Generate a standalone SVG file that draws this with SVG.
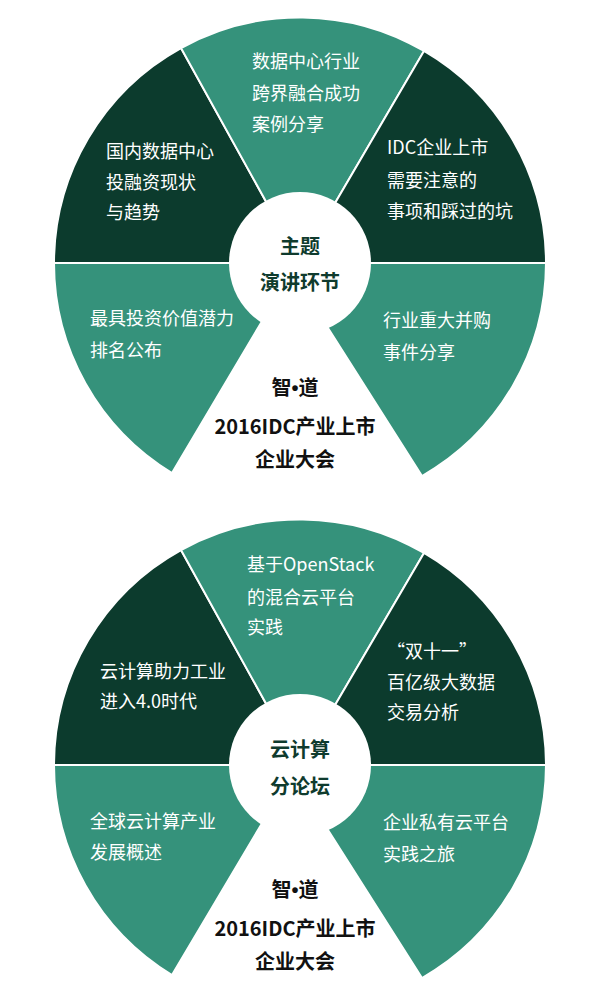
<svg xmlns="http://www.w3.org/2000/svg" width="600" height="1000" viewBox="0 0 600 1000">
<defs>
<style>
.dark{fill:#0c3b2d;stroke:#ffffff;stroke-width:2;stroke-linejoin:round}
.teal{fill:#35927b;stroke:#ffffff;stroke-width:2;stroke-linejoin:round}
.hub{fill:#ffffff}
.lbl{font-family:"Noto Sans CJK SC","Microsoft YaHei",sans-serif;font-size:18px;fill:#ffffff}
.ctr{font-family:"Noto Sans CJK SC",sans-serif;font-size:20px;font-weight:bold;fill:#0f3b2e;text-anchor:middle}
.ttl{font-family:"Noto Sans CJK SC",sans-serif;font-size:20px;font-weight:bold;fill:#111111;text-anchor:middle}
.dot{font-family:"Liberation Sans",sans-serif}
</style>
</defs>
<rect width="600" height="1000" fill="#ffffff"/>

<g id="wheel1">
  <g id="w1-upper-left">
    <path class="dark" d="M300,263 L54,263 A246,246 0 0 1 181,48 Z"/>
    <text class="lbl" x="106" y="158">国内数据中心</text>
    <text class="lbl" x="106" y="189">投融资现状</text>
    <text class="lbl" x="106" y="219">与趋势</text>
  </g>
  <g id="w1-top">
    <path class="teal" d="M300,263 L181,48 A246,246 0 0 1 424,51 Z"/>
    <text class="lbl" x="252" y="68">数据中心行业</text>
    <text class="lbl" x="252" y="100">跨界融合成功</text>
    <text class="lbl" x="252" y="131">案例分享</text>
  </g>
  <g id="w1-upper-right">
    <path class="dark" d="M300,263 L424,51 A246,246 0 0 1 546,263 Z"/>
    <text class="lbl" x="387" y="154">IDC企业上市</text>
    <text class="lbl" x="387" y="187">需要注意的</text>
    <text class="lbl" x="387" y="218">事项和踩过的坑</text>
  </g>
  <g id="w1-lower-right">
    <path class="teal" d="M300,263 L546,263 A246,246 0 0 1 422,476 L328,328 Z"/>
    <text class="lbl" x="383" y="327">行业重大并购</text>
    <text class="lbl" x="383" y="359">事件分享</text>
  </g>
  <g id="w1-lower-left">
    <path class="teal" d="M300,263 L261,323 L172,473 A246,246 0 0 1 54,263 Z"/>
    <text class="lbl" x="90" y="325">最具投资价值潜力</text>
    <text class="lbl" x="90" y="357">排名公布</text>
  </g>
  <g id="w1-hub">
    <circle class="hub" cx="300" cy="263" r="71"/>
    <text class="ctr" x="300" y="254">主题</text>
    <text class="ctr" x="300" y="290">演讲环节</text>
  </g>
  <g id="w1-title">
    <text class="ttl" x="295" y="395">智<tspan class="dot">•</tspan>道</text>
    <text class="ttl" x="295" y="434">2016IDC产业上市</text>
    <text class="ttl" x="295" y="467">企业大会</text>
  </g>
</g>

<g id="wheel2">
  <g id="w2-upper-left">
    <path class="dark" d="M300,765 L54,765 A246,246 0 0 1 181,550 Z"/>
    <text class="lbl" x="100" y="678">云计算助力工业</text>
    <text class="lbl" x="100" y="708">进入4.0时代</text>
  </g>
  <g id="w2-top">
    <path class="teal" d="M300,765 L181,550 A246,246 0 0 1 424,553 Z"/>
    <text class="lbl" x="247" y="571">基于OpenStack</text>
    <text class="lbl" x="247" y="604">的混合云平台</text>
    <text class="lbl" x="247" y="634">实践</text>
  </g>
  <g id="w2-upper-right">
    <path class="dark" d="M300,765 L424,553 A246,246 0 0 1 546,765 Z"/>
    <text class="lbl" x="387" y="658">“双十一”</text>
    <text class="lbl" x="387" y="689">百亿级大数据</text>
    <text class="lbl" x="387" y="719">交易分析</text>
  </g>
  <g id="w2-lower-right">
    <path class="teal" d="M300,765 L546,765 A246,246 0 0 1 422,978 L328,830 Z"/>
    <text class="lbl" x="383" y="829">企业私有云平台</text>
    <text class="lbl" x="383" y="861">实践之旅</text>
  </g>
  <g id="w2-lower-left">
    <path class="teal" d="M300,765 L261,825 L172,975 A246,246 0 0 1 54,765 Z"/>
    <text class="lbl" x="90" y="828">全球云计算产业</text>
    <text class="lbl" x="90" y="859">发展概述</text>
  </g>
  <g id="w2-hub">
    <circle class="hub" cx="300" cy="765" r="71"/>
    <text class="ctr" x="300" y="757">云计算</text>
    <text class="ctr" x="300" y="794">分论坛</text>
  </g>
  <g id="w2-title">
    <text class="ttl" x="295" y="897">智<tspan class="dot">•</tspan>道</text>
    <text class="ttl" x="295" y="936">2016IDC产业上市</text>
    <text class="ttl" x="295" y="969">企业大会</text>
  </g>
</g>
</svg>
